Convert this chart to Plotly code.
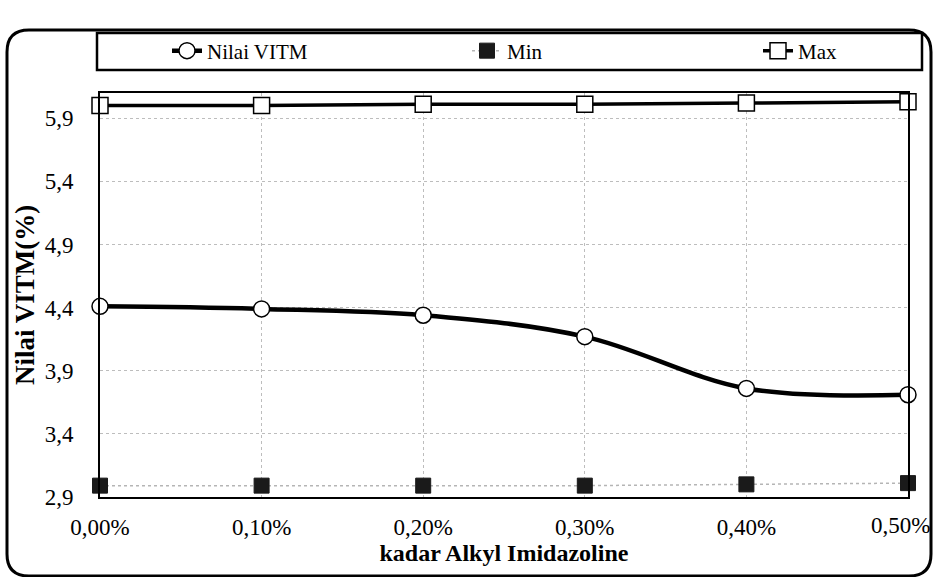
import plotly.graph_objects as go

categories = ["0,00%", "0,10%", "0,20%", "0,30%", "0,40%", "0,50%"]
vitm = [4.41, 4.39, 4.34, 4.17, 3.76, 3.71]
vmin = [2.99, 2.99, 2.99, 2.99, 3.00, 3.01]
vmax = [6.00, 6.00, 6.01, 6.01, 6.02, 6.03]
ytick_vals = [2.9, 3.4, 3.9, 4.4, 4.9, 5.4, 5.9]
ytick_text = ["2,9", "3,4", "3,9", "4,4", "4,9", "5,4", "5,9"]

W, H = 935, 577
ML, MR, MT, MB = 100, 27, 93, 80
PW, PH = W - ML - MR, H - MT - MB
xs = list(range(len(categories)))

def px2paper(x, y):
    return (x - ML) / PW, (H - MB - y) / PH

def rounded_rect(x0, y0, x1, y1, r):
    def P(x, y):
        a, b = px2paper(x, y)
        return f"{a:.5f},{b:.5f}"
    return (f"M {P(x0+r, y0)} L {P(x1-r, y0)} Q {P(x1, y0)} {P(x1, y0+r)} "
            f"L {P(x1, y1-r)} Q {P(x1, y1)} {P(x1-r, y1)} L {P(x0+r, y1)} "
            f"Q {P(x0, y1)} {P(x0, y1-r)} L {P(x0, y0+r)} Q {P(x0, y0)} {P(x0+r, y0)} Z")

font = "Liberation Serif"
fig = go.Figure()
fig.add_trace(go.Scatter(x=xs, y=vitm, name="Nilai VITM", mode="lines+markers", legend="legend",
                         line=dict(color="black", width=4.5, shape="spline"),
                         marker=dict(symbol="circle", size=16, color="white",
                                     line=dict(color="black", width=1.5))))
fig.add_trace(go.Scatter(x=xs, y=vmin, name="Min", mode="lines+markers", legend="legend2",
                         line=dict(color="#b5b5b5", width=1.5, dash="dot"),
                         marker=dict(symbol="square", size=15, color="#1a1a1a",
                                     line=dict(color="#1a1a1a", width=1))))
fig.add_trace(go.Scatter(x=xs, y=vmax, name="Max", mode="lines+markers", legend="legend3",
                         line=dict(color="black", width=3.5),
                         marker=dict(symbol="square", size=16, color="white",
                                     line=dict(color="black", width=1.5))))

bx0, by0 = px2paper(97, 70)
bx1, by1 = px2paper(922, 33)
fig.add_shape(type="rect", xref="paper", yref="paper", x0=bx0, y0=by0, x1=bx1, y1=by1,
              line=dict(color="black", width=2.5), fillcolor="rgba(0,0,0,0)")
fig.add_shape(type="path", xref="paper", yref="paper",
              path=rounded_rect(7, 30, 931, 576, 22),
              line=dict(color="black", width=3))

# last category label placed as annotation so it stays inside the page
tick_text_x = categories[:-1] + [""]
fig.add_annotation(x=xs[-1], y=0, xref="x", yref="paper", text=categories[-1],
                   showarrow=False, xanchor="right", yanchor="top", xshift=24, yshift=-14,
                   font=dict(family=font, size=23, color="black"))

def leg(xpx):
    return dict(xref="container", yref="container", x=xpx / W, y=1 - 51 / H,
                xanchor="left", yanchor="middle", orientation="h",
                font=dict(family=font, size=21), bgcolor="rgba(0,0,0,0)", borderwidth=0)

fig.update_layout(
    width=W, height=H, margin=dict(l=ML, r=MR, t=MT, b=MB, autoexpand=False),
    paper_bgcolor="white", plot_bgcolor="white",
    font=dict(family=font, size=22, color="black"),
    showlegend=True,
    legend=leg(167), legend2=leg(467), legend3=leg(758),
    xaxis=dict(range=[0, 5], tickvals=xs, ticktext=tick_text_x, showline=True,
               linecolor="black", linewidth=2, mirror=True, showgrid=True,
               gridcolor="#bdbdbd", griddash="dot", gridwidth=1, zeroline=False,
               ticks="outside", ticklen=8, tickcolor="rgba(0,0,0,0)",
               tickfont=dict(family=font, size=23),
               title=dict(text="<b>kadar Alkyl Imidazoline</b>", font=dict(family=font, size=24), standoff=0)),
    yaxis=dict(range=[2.9, 6.1], tickvals=ytick_vals, ticktext=ytick_text, showline=True,
               linecolor="black", linewidth=2, mirror=True, showgrid=True,
               gridcolor="#bdbdbd", griddash="dot", gridwidth=1, zeroline=False,
               ticks="outside", ticklen=20, tickcolor="rgba(0,0,0,0)",
               tickfont=dict(family=font, size=23),
               title=dict(text="<b>Nilai VITM(%)</b>", font=dict(family=font, size=27), standoff=2)),
)
fig.update_traces(cliponaxis=False)
fig.write_html("out.html")
